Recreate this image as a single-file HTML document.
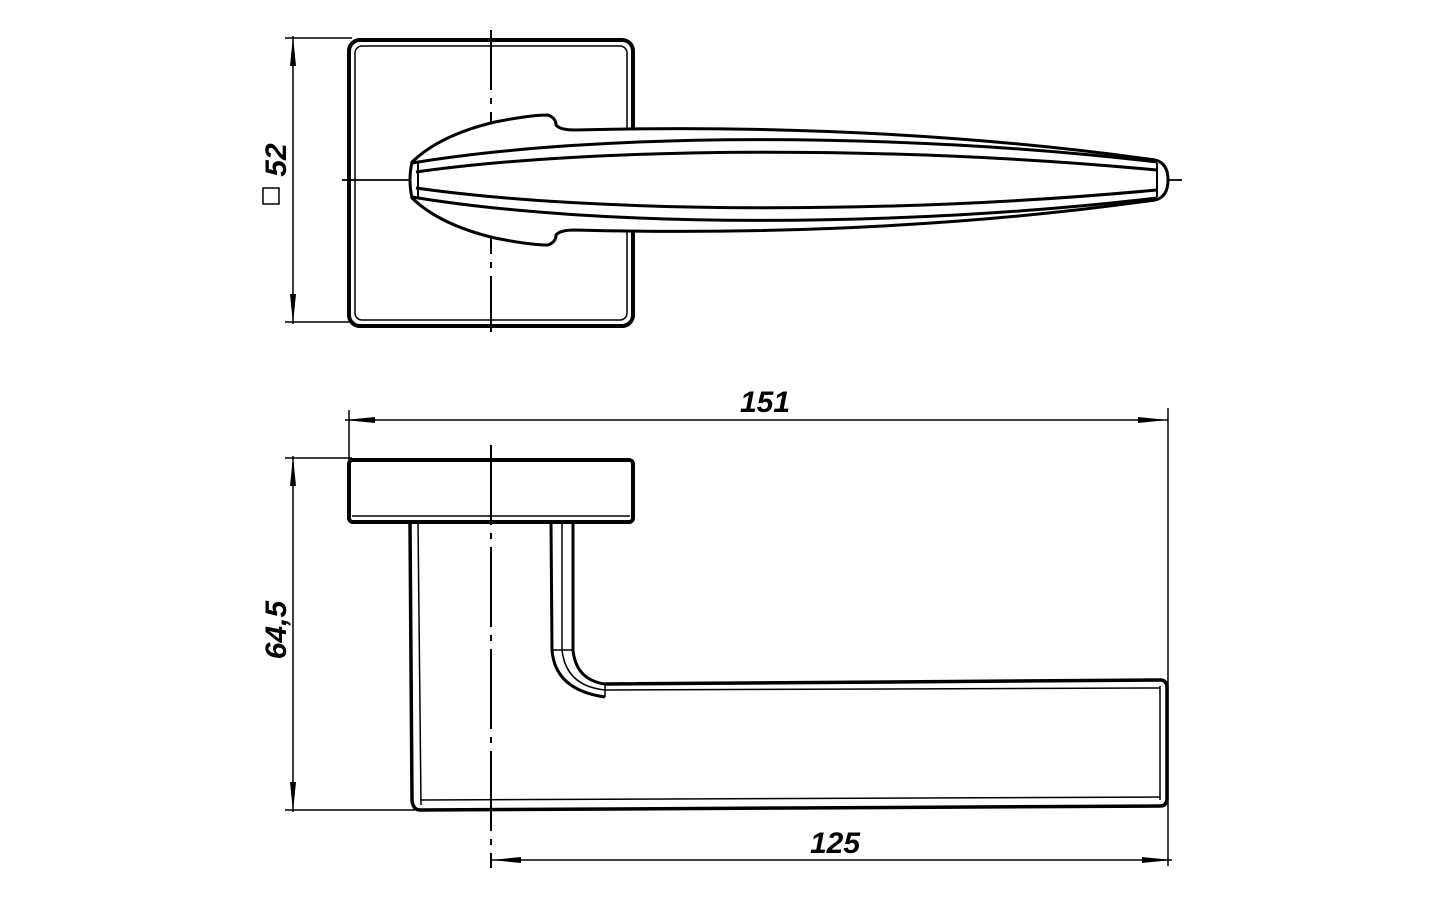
<!DOCTYPE html>
<html><head><meta charset="utf-8"><style>
html,body{margin:0;padding:0;background:#fff;}
svg{display:block}
text{font-family:"Liberation Sans",sans-serif;font-style:italic;font-weight:bold;font-size:30px;fill:#000}
</style></head><body>
<svg width="1440" height="900" viewBox="0 0 1440 900" xmlns="http://www.w3.org/2000/svg">
<defs>
<marker id="a" viewBox="0 0 30 8" refX="30" refY="4" markerWidth="30" markerHeight="8" markerUnits="userSpaceOnUse" orient="auto-start-reverse">
<path d="M0,1 L30,4 L0,7 Z" fill="#000"/></marker>
</defs>
<g fill="none" stroke="#000">
<rect x="349" y="40" width="284" height="286" rx="11" stroke-width="4"/>
<rect x="355" y="46" width="272" height="274" rx="7" stroke-width="1.5"/>
<line x1="491" y1="30" x2="491" y2="332" stroke-width="2" stroke-dasharray="60,8,6,8"/>
<line x1="342" y1="180" x2="1182" y2="180" stroke-width="1.8" stroke-dasharray="90,8,6,8"/>
<path d="M412,162 Q440,135 495,122 Q530,115 548,115 Q556,118 556,125 Q560,130 575,130 C800,124 1000,138 1155,160 Q1168,163 1168,180 Q1168,197 1155,200 C1000,222 800,236 575,230 Q560,230 556,235 Q556,242 548,245 Q530,245 495,238 Q440,225 412,198 Q408,180 412,162 Z" fill="#fff" stroke-width="3"/>
<path d="M412,163 C600,132 900,132 1157,162" stroke-width="3"/>
<path d="M416,172 C600,146 900,146 1157,170" stroke-width="3"/>
<path d="M412,197 C600,228 900,228 1157,198" stroke-width="3"/>
<path d="M416,188 C600,214 900,214 1157,190" stroke-width="3"/>
<line x1="418" y1="163" x2="418" y2="197" stroke-width="2"/>
<line x1="1157" y1="163" x2="1157" y2="197" stroke-width="2"/>
<line x1="285" y1="38" x2="352" y2="38" stroke-width="1.5"/>
<line x1="285" y1="322" x2="352" y2="322" stroke-width="1.5"/>
<line x1="293" y1="36" x2="293" y2="324" stroke-width="1.5" marker-start="url(#a)" marker-end="url(#a)"/>
<rect x="263" y="188" width="16" height="16" stroke-width="1.5"/>
<rect x="349" y="460" width="284" height="62" rx="4" stroke-width="4"/>
<line x1="352" y1="516" x2="630" y2="516" stroke-width="1.5"/>
<path d="M410,522 L412,800 Q413,810 420,810 L1160,806 Q1167,806 1167,798 L1167,688 Q1167,680 1160,680 L605,684" stroke-width="3.5"/>
<line x1="418" y1="522" x2="421" y2="805" stroke-width="1.5"/>
<line x1="420" y1="800" x2="1160" y2="797" stroke-width="1.5"/>
<line x1="1160" y1="686" x2="1160" y2="800" stroke-width="1.5"/>
<line x1="605" y1="690" x2="1160" y2="688" stroke-width="1.5"/>
<path d="M551,522 L552,650 Q555,690 605,697" stroke-width="3"/>
<path d="M573,522 L573,650 Q576,680 605,684" stroke-width="3"/>
<path d="M562,522 L562,650 Q566,686 605,690" stroke-width="1.5"/>
<line x1="552" y1="650" x2="573" y2="650" stroke-width="1.5"/>
<line x1="605" y1="684" x2="605" y2="697" stroke-width="1.5"/>
<line x1="491" y1="445" x2="491" y2="868" stroke-width="2" stroke-dasharray="80,8,6,8"/>
<line x1="349" y1="410" x2="349" y2="460" stroke-width="1.5"/>
<line x1="1168" y1="408" x2="1168" y2="866" stroke-width="1.5"/>
<line x1="345" y1="420" x2="1168" y2="420" stroke-width="1.5" marker-start="url(#a)" marker-end="url(#a)"/>
<line x1="285" y1="458" x2="352" y2="458" stroke-width="1.5"/>
<line x1="285" y1="810" x2="415" y2="810" stroke-width="1.5"/>
<line x1="293" y1="456" x2="293" y2="812" stroke-width="1.5" marker-start="url(#a)" marker-end="url(#a)"/>
<line x1="491" y1="860" x2="1172" y2="860" stroke-width="1.5" marker-start="url(#a)" marker-end="url(#a)"/>
</g>
<text x="740" y="412">151</text>
<text x="810" y="853">125</text>
<text transform="translate(286,160) rotate(-90)" text-anchor="middle">52</text>
<text transform="translate(286,630) rotate(-90)" text-anchor="middle">64,5</text>
</svg>
</body></html>
